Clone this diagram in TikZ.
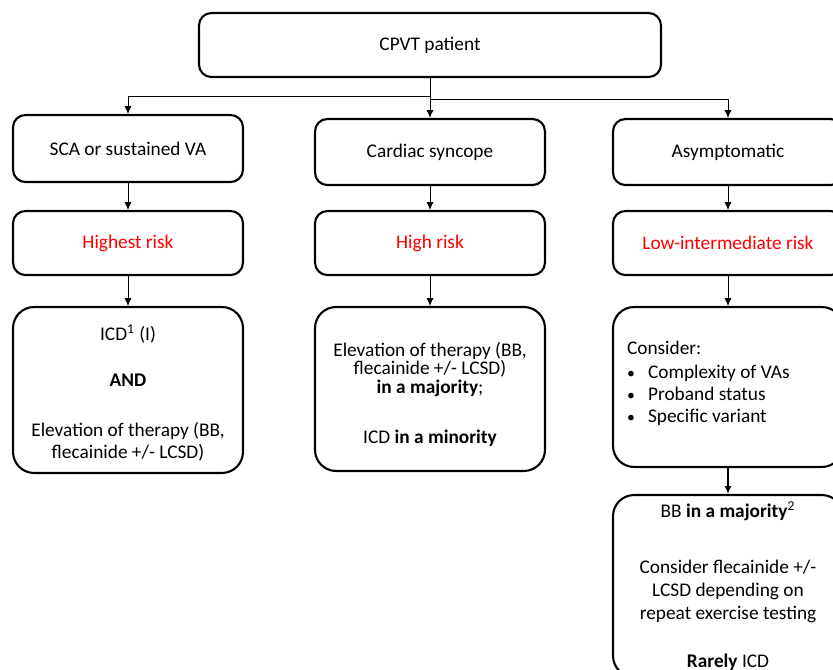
\documentclass[tikz,border=0pt]{standalone}
\usepackage{fontspec}
\setmainfont{Carlito}
\usetikzlibrary{positioning,arrows.meta}
\definecolor{riskred}{RGB}{255,0,0}
\newcommand{\toppad}[1]{\rule{0pt}{#1}}
\newcommand{\botpad}[1]{\rule[-#1]{0pt}{0pt}}
\newcommand{\bulletitem}{\makebox[12pt][l]{\small\textbullet}}

\begin{document}
\begin{tikzpicture}[x=0.02cm,y=-0.02cm,
    box/.style={draw,line width=1.2pt,rounded corners=7pt,align=center,
      minimum width=4.6cm,minimum height=1.3cm,inner sep=2pt,
      font=\fontsize{11}{13}\selectfont},
    bigbox/.style={box,rounded corners=12pt},
    link/.style={-{Latex[length=4.5pt,width=4pt]},line width=0.5pt},
    risk/.style={text=riskred}]
  \clip (0,0) rectangle (833,670);
  \path[use as bounding box] (0,0) rectangle (833,670);

  % first rows
  \node[box,minimum width=9.24cm,minimum height=1.28cm] (patient) at (430,45) {CPVT patient};
  \node[box,minimum height=1.34cm] (sca) at (128,148.5) {SCA or sustained VA};
  \node[box,minimum height=1.32cm] (syncope) at (430,152) {Cardiac syncope};
  \node[box,minimum height=1.32cm] (asym) at (728,152) {Asymptomatic};

  \node[box,risk,minimum height=1.28cm] (highest) at (128,243) {Highest risk};
  \node[box,risk,minimum height=1.28cm] (high) at (430,243) {High risk};
  \node[box,risk,minimum height=1.28cm] (low) at (728,243) {Low-intermediate risk};

  % therapy boxes
  \node[bigbox,minimum height=3.32cm] (icd) at (128,390)
    {\toppad{12pt}ICD\textsuperscript{1} (I)\\[13.2pt]
     \textbf{AND}\\[15.5pt]
     Elevation of therapy (BB,\\[-0.5pt] flecainide +/- LCSD)};
  \node[bigbox,minimum height=3.28cm] (elev) at (430,389)
    {\toppad{14pt}Elevation of therapy (BB,\\[-2.3pt] flecainide +/- LCSD)\\[-2.5pt]
     \textbf{in a majority};\\[15.5pt]
     ICD \textbf{in a minority}};
  \node[bigbox,minimum height=3.2cm,text width=4.04cm,align=flush left] (consider) at (728,387)
    {Consider:\\[0.5pt]
     \bulletitem Complexity of VAs\\[-0.5pt]
     \bulletitem Proband status\\[-0.5pt]
     \bulletitem Specific variant\botpad{6pt}};
  \node[bigbox,minimum height=3.64cm] (bb) at (728,586)
    {BB \textbf{in a majority}\textsuperscript{2}\\[19pt]
     Consider flecainide +/-\\ LCSD depending on\\ repeat exercise testing\\[14.5pt]
     \textbf{Rarely} ICD};

  % connectors
  \coordinate (splitL) at (430,96);
  \coordinate (splitR) at (430,99);
  \draw[line width=0.5pt] (patient.south) -- (splitR);
  \draw[link] (splitL) -| (sca.north);
  \draw[link] (splitL) -- (syncope.north);
  \draw[link] (splitR) -| (asym.north);

  \draw[link] (sca) -- (highest);
  \draw[link] (syncope) -- (high);
  \draw[link] (asym) -- (low);
  \draw[link] (highest) -- (icd);
  \draw[link] (high) -- (elev);
  \draw[link] (low) -- (consider);
  \draw[link,line width=1.2pt] (consider) -- (bb);
\end{tikzpicture}
\end{document}
